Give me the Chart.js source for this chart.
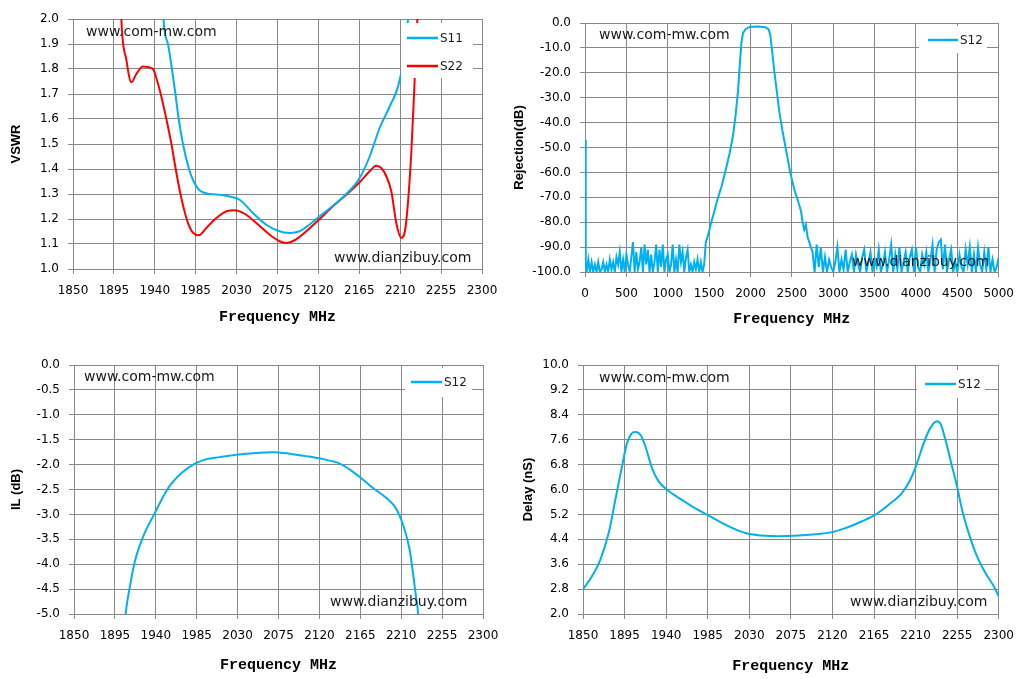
<!DOCTYPE html>
<html>
<head>
<meta charset="utf-8">
<script src="https://cdn.jsdelivr.net/npm/chart.js@4/dist/chart.umd.min.js"></script>
<style>
html, body { margin: 0; padding: 0; background: #fff; }
canvas { position: absolute; }
</style>
</head>
<body>
<canvas id="vswr" width="512" height="340" style="left:0;top:0"></canvas>
<canvas id="rej" width="512" height="340" style="left:512px;top:0"></canvas>
<canvas id="il" width="512" height="339" style="left:0;top:340px"></canvas>
<canvas id="delay" width="512" height="339" style="left:512px;top:340px"></canvas>
<script>
// ---- data ----
var freqTicks = [1850, 1895, 1940, 1985, 2030, 2075, 2120, 2165, 2210, 2255, 2300];
var vswrTicks = [1.0, 1.1, 1.2, 1.3, 1.4, 1.5, 1.6, 1.7, 1.8, 1.9, 2.0];
var rejFreqTicks = [0, 500, 1000, 1500, 2000, 2500, 3000, 3500, 4000, 4500, 5000];
var rejTicks = [-100, -90, -80, -70, -60, -50, -40, -30, -20, -10, 0];
var ilTicks = [-5.0, -4.5, -4.0, -3.5, -3.0, -2.5, -2.0, -1.5, -1.0, -0.5, 0.0];
var delayTicks = [2.0, 2.8, 3.6, 4.4, 5.2, 6.0, 6.8, 7.6, 8.4, 9.2, 10.0];

var s11Freq = [1947, 1949.6, 1954.5, 1958.9, 1962.7, 1966.3, 1971, 1977.6, 1982.8, 1988.6, 2000.4, 2011.4, 2022.4, 2033.4, 2048, 2062.7, 2075.5, 2088.3, 2099.3, 2110, 2121, 2136, 2150.7, 2165.4, 2176.4, 2187.4, 2198.4, 2209.4, 2218.5, 2221];
var s11Vswr = [2.3, 2.0, 1.9, 1.8, 1.7, 1.6, 1.5, 1.4, 1.35, 1.317, 1.30, 1.297, 1.29, 1.277, 1.224, 1.177, 1.153, 1.144, 1.151, 1.177, 1.21, 1.253, 1.30, 1.364, 1.45, 1.564, 1.65, 1.757, 2.0, 2.3];

var s22Freq = [1901, 1903.2, 1908.7, 1914.2, 1919.7, 1927, 1934, 1938, 1942, 1946.5, 1952.7, 1958.3, 1963, 1968.2, 1973.7, 1978, 1982, 1988.6, 1996.7, 2007.7, 2020.5, 2027.8, 2038.8, 2051.7, 2066.4, 2077.4, 2084.7, 2093.9, 2106.7, 2121.4, 2136, 2150.7, 2165.4, 2176.4, 2183.7, 2189.2, 2194.7, 2200.2, 2205.7, 2211.2, 2216, 2222.2, 2225.9, 2228.8, 2230.5];
var s22Vswr = [2.3, 2.0, 1.837, 1.747, 1.78, 1.81, 1.806, 1.80, 1.76, 1.70, 1.60, 1.50, 1.40, 1.30, 1.217, 1.17, 1.145, 1.135, 1.164, 1.204, 1.233, 1.235, 1.221, 1.184, 1.137, 1.111, 1.104, 1.115, 1.151, 1.20, 1.251, 1.297, 1.347, 1.391, 1.413, 1.404, 1.371, 1.311, 1.184, 1.124, 1.171, 1.464, 1.757, 2.0, 2.3];

var rejFreq = [0, 6, 12, 20, 40, 60, 80, 100, 120, 140, 160, 180, 200, 220, 240, 260, 280, 300, 320, 340, 360, 380, 400, 420, 440, 460, 480, 500, 520, 540, 560, 580, 600, 620, 640, 660, 680, 700, 720, 740, 760, 780, 800, 820, 840, 860, 880, 900, 920, 940, 960, 980, 1000, 1020, 1040, 1060, 1080, 1100, 1120, 1140, 1160, 1180, 1200, 1220, 1240, 1260, 1280, 1300, 1320, 1340, 1360, 1380, 1400, 1420, 1440,
  1460, 1480, 1500, 1530, 1560, 1600, 1650, 1700, 1750, 1790, 1820, 1850, 1870, 1890, 1910, 1940, 1990, 2090, 2180, 2220, 2240, 2260, 2290, 2320, 2350, 2390, 2430, 2480, 2530, 2570, 2610, 2630, 2650, 2670, 2690, 2710, 2730,
  2750, 2775, 2800, 2825, 2850, 2875, 2900, 2925, 2950, 2975, 3000, 3025, 3050, 3075, 3100, 3125, 3150, 3175, 3200, 3225, 3250, 3275, 3300, 3325, 3350, 3375, 3400, 3425, 3450, 3475, 3500, 3525, 3550, 3575, 3600, 3625, 3650, 3675, 3700, 3725, 3750, 3775, 3800, 3825, 3850, 3875, 3900, 3925, 3950, 3975, 4000, 4025, 4050, 4075, 4100, 4125, 4150, 4175, 4200, 4225, 4250, 4275, 4300, 4325, 4350, 4375, 4400, 4425, 4450, 4475, 4500, 4525, 4550, 4575, 4600, 4625, 4650, 4675, 4700, 4725, 4750, 4775, 4800, 4825, 4850, 4875, 4900, 4925, 4950, 4975, 5000];
var rejS12 = [-47, -75, -96, -100, -95, -100, -96, -100, -97, -100, -96, -100, -99, -96, -100, -97, -100, -95, -99, -96, -100, -94, -97, -92, -100, -95, -100, -93, -97, -100, -94, -88, -100, -92, -99, -96, -90, -100, -89, -97, -91, -100, -93, -100, -96, -89, -100, -91, -98, -89, -100, -95, -93, -100, -97, -89, -100, -95, -100, -89, -96, -92, -100, -94, -91, -100, -97, -100, -96, -99, -95, -100, -96, -100, -97,
  -88, -86, -83.5, -79.5, -76, -71, -65.7, -59, -52, -45, -37, -27, -17, -8, -4, -2.5, -1.6, -1.4, -1.7, -2.6, -5, -11, -20, -28, -36, -44, -51, -60, -67, -71, -75.5, -80, -83, -81, -86, -88, -90,
  -92, -100, -89, -98, -90, -100, -94, -100, -95, -98, -100, -96, -90, -100, -95, -99, -91, -100, -96, -93, -100, -93, -97, -100, -94, -91, -100, -96, -92, -100, -95, -98, -91, -100, -97, -92, -100, -95, -89, -100, -93, -99, -90, -100, -96, -92, -100, -94, -91, -100, -90, -98, -100, -93, -97, -92, -100, -95, -89, -100, -91, -88, -87, -99, -89, -100, -95, -91, -100, -96, -100, -93, -98, -100, -91, -97, -90, -100, -93, -100, -90, -97, -100, -92, -99, -90, -100, -95, -100, -98, -94];

var ilFreq = [1905.5, 1906.8, 1911.6, 1917, 1926.2, 1939, 1953.7, 1968.3, 1983, 1995.8, 2010.5, 2028.8, 2047, 2069, 2087.4, 2105.7, 2124, 2142.4, 2153.4, 2164.4, 2179, 2193.7, 2202.8, 2208.3, 2213.8, 2219.3, 2223, 2226.7, 2228.5, 2229];
var ilS12 = [-5.3, -5.0, -4.44, -3.94, -3.44, -2.97, -2.47, -2.17, -1.98, -1.89, -1.85, -1.80, -1.77, -1.75, -1.78, -1.83, -1.89, -1.98, -2.10, -2.25, -2.47, -2.67, -2.84, -3.03, -3.31, -3.71, -4.18, -4.71, -5.0, -5.3];

var delayFreq = [1850, 1859.7, 1868.8, 1877.8, 1885, 1892.2, 1897.6, 1902.3, 1906.7, 1912.1, 1917.5, 1924.7, 1931.9, 1940.9, 1953.6, 1968, 1984.3, 2004.1, 2025.8, 2043.8, 2061.8, 2083.5, 2105.2, 2119.6, 2134, 2152, 2166.5, 2180.9, 2195.4, 2204.4, 2211.6, 2218.8, 2226, 2233.3, 2236.9, 2242.3, 2249.5, 2254.9, 2260.3, 2267.5, 2276.5, 2285.6, 2294.6, 2300];
var delayS12 = [2.80, 3.21, 3.75, 4.60, 5.67, 6.74, 7.49, 7.79, 7.85, 7.76, 7.39, 6.69, 6.26, 5.99, 5.73, 5.46, 5.19, 4.87, 4.60, 4.52, 4.50, 4.52, 4.57, 4.63, 4.76, 4.98, 5.19, 5.51, 5.89, 6.32, 6.85, 7.49, 7.98, 8.19, 8.12, 7.60, 6.74, 6.10, 5.35, 4.60, 3.85, 3.32, 2.89, 2.57];

var CYAN = '#00B0F0';
var RED = '#FF0000';
var GRID = '#888888';

// watermarks + in-plot legend box (Excel style)
var overlay = {
  id: 'overlay',
  afterDatasetsDraw: function (chart, args, opts) {
    var ctx = chart.ctx;
    ctx.save();
    ctx.textBaseline = 'middle';
    ctx.textAlign = 'left';
    ctx.fillStyle = '#1a1a1a';
    ctx.font = '14px "DejaVu Sans"';
    opts.marks.forEach(function (m) { ctx.fillText(m.text, m.x, m.y); });

    var lg = opts.legend;
    ctx.fillStyle = '#fff';
    ctx.fillRect(lg.x, lg.y, lg.w, lg.h);
    ctx.font = '12px "DejaVu Sans"';
    chart.data.datasets.forEach(function (ds, i) {
      var y = lg.rows[i];
      ctx.strokeStyle = ds.borderColor;
      ctx.lineWidth = 2.5;
      ctx.beginPath();
      ctx.moveTo(lg.x0, y);
      ctx.lineTo(lg.x1, y);
      ctx.stroke();
      ctx.fillStyle = '#1a1a1a';
      ctx.fillText(ds.label, lg.x1 + 2, y + 1);
    });
    ctx.restore();
  }
};

function series(label, xs, ys, color, smooth) {
  return {
    label: label,
    data: xs.map(function (x, i) { return { x: x, y: ys[i] }; }),
    borderColor: color,
    backgroundColor: color,
    borderWidth: 2,
    pointRadius: 0,
    fill: false,
    clip: 0,
    tension: smooth ? 0.4 : 0,
    cubicInterpolationMode: smooth ? 'monotone' : 'default'
  };
}

function axis(ticks, decimals, title, isX, p) {
  return {
    type: 'linear',
    min: ticks[0],
    max: ticks[ticks.length - 1],
    afterBuildTicks: function (s) { s.ticks = ticks.map(function (v) { return { value: v }; }); },
    afterFit: function (s) {
      if (isX) { s.height = p.xHeight; } else { s.width = p.yWidth; }
    },
    grid: { color: GRID, lineWidth: 1, drawTicks: true, tickLength: 5, tickColor: GRID },
    border: { display: true, color: GRID, width: 1 },
    ticks: {
      autoSkip: false,
      maxRotation: 0,
      padding: isX ? 10 : 9,
      color: '#000',
      font: { family: 'DejaVu Sans', size: 12 },
      callback: function (v) { return Number(v).toFixed(decimals); }
    },
    title: isX
      ? { display: true, text: title, color: '#000', font: { family: '"Liberation Mono", "Courier New", monospace', size: 15, weight: 'bold' }, padding: { top: 0, bottom: p.xTitlePad } }
      : { display: true, text: title, color: '#000', font: { family: '"Liberation Sans", Arial, sans-serif', size: 13, weight: 'bold' }, padding: { top: p.yTitlePad, bottom: 0 } }
  };
}

function buildChart(id, p) {
  return new Chart(document.getElementById(id), {
    type: 'line',
    data: { datasets: p.datasets },
    options: {
      responsive: false,
      animation: false,
      devicePixelRatio: 1,
      layout: { padding: { left: 0, right: p.right, top: p.top, bottom: 0 } },
      plugins: {
        legend: { display: false },
        tooltip: { enabled: false },
        overlay: { marks: p.marks, legend: p.legend }
      },
      scales: {
        x: axis(p.xTicks, 0, 'Frequency MHz', true, p),
        y: axis(p.yTicks, 1, p.yTitle, false, p)
      }
    },
    plugins: [overlay]
  });
}

buildChart('vswr', {
  datasets: [series('S11', s11Freq, s11Vswr, CYAN, true), series('S22', s22Freq, s22Vswr, RED, true)],
  xTicks: freqTicks, yTicks: vswrTicks, yTitle: 'VSWR',
  right: 30, top: 19, yWidth: 73, xHeight: 71, xTitlePad: 14, yTitlePad: 9,
  marks: [{ text: 'www.com-mw.com', x: 86, y: 32 }, { text: 'www.dianzibuy.com', x: 334, y: 258 }],
  legend: { x: 401, y: 23, w: 72, h: 55, x0: 407, x1: 438, rows: [38, 66] }
});

buildChart('rej', {
  datasets: [series('S12', rejFreq, rejS12, CYAN, false)],
  xTicks: rejFreqTicks, yTicks: rejTicks, yTitle: 'Rejection(dB)',
  right: 23, top: 23, yWidth: 73, xHeight: 68, xTitlePad: 12, yTitlePad: 0,
  marks: [{ text: 'www.com-mw.com', x: 87, y: 35 }, { text: 'www.dianzibuy.com', x: 340, y: 262 }],
  legend: { x: 407, y: 26, w: 68, h: 27, x0: 416, x1: 446, rows: [40] }
});

buildChart('il', {
  datasets: [series('S12', ilFreq, ilS12, CYAN, true)],
  xTicks: freqTicks, yTicks: ilTicks, yTitle: 'IL (dB)',
  right: 29, top: 25, yWidth: 74, xHeight: 65, xTitlePad: 5, yTitlePad: 9,
  marks: [{ text: 'www.com-mw.com', x: 84, y: 37 }, { text: 'www.dianzibuy.com', x: 330, y: 262 }],
  legend: { x: 405, y: 28, w: 67, h: 29, x0: 411, x1: 442, rows: [42] }
});

buildChart('delay', {
  datasets: [series('S12', delayFreq, delayS12, CYAN, true)],
  xTicks: freqTicks, yTicks: delayTicks, yTitle: 'Delay (nS)',
  right: 25, top: 25, yWidth: 71, xHeight: 65, xTitlePad: 4, yTitlePad: 9,
  marks: [{ text: 'www.com-mw.com', x: 87, y: 38 }, { text: 'www.dianzibuy.com', x: 338, y: 262 }],
  legend: { x: 405, y: 30, w: 68, h: 28, x0: 413, x1: 444, rows: [44] }
});
</script>
</body>
</html>
